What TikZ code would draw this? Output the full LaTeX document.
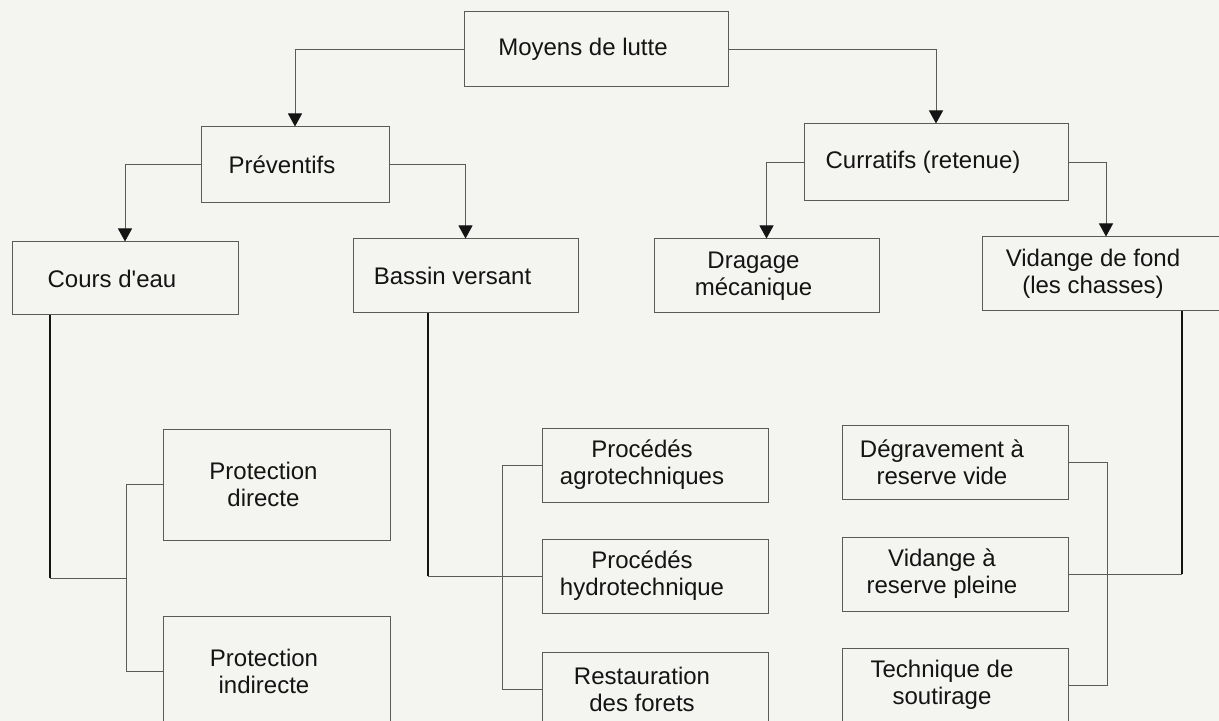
\documentclass[tikz,border=0pt]{standalone}
\usepackage{fontspec}
\setmainfont{Liberation Sans}
\usetikzlibrary{arrows.meta}
\definecolor{paper}{RGB}{244,244,241}
\definecolor{ink}{RGB}{20,20,20}
\definecolor{rule}{RGB}{90,90,90}
\newcommand{\tl}{\hspace*{13pt}}

\begin{document}
\begin{tikzpicture}[x=0.5pt,y=-0.5pt,
        box/.style={draw=rule,line width=0.5pt,fill=paper,align=center,inner sep=0pt,
          text=ink,font=\fontsize{12}{13.5}\selectfont},
        link/.style={draw=rule,line width=0.5pt,-{Triangle[length=6.5pt,width=7pt,fill=ink,color=ink]}},
        trunk/.style={draw=ink,line width=1pt},
        tie/.style={draw=rule,line width=0.5pt}]
        \clip (0,0) rectangle (1219,721);
        \fill [paper] (0,0) rectangle (1219,721);
        % top levels
        \node [box,minimum width=132pt,minimum height=37.5pt] (moyens) at (596,49.5) {Moyens de lutte\tl};
        \node [box,minimum width=94pt,minimum height=38pt] (prev) at (295,165) {Préventifs\tl};
        \node [box,minimum width=132pt,minimum height=38.5pt] (cur) at (936,162.5) {Curratifs (retenue)\tl};
        \node [box,minimum width=113pt,minimum height=36.5pt] (cours) at (125,278.5) {Cours d\textquotesingle eau\tl};
        \node [box,minimum width=112.5pt,minimum height=37pt] (bassin) at (465.5,276) {Bassin versant\tl};
        \node [box,minimum width=112.5pt,minimum height=37pt] (drag) at (766.5,276) {Dragage\tl\\mécanique\tl};
        \node [box,minimum width=124pt,minimum height=37pt] (vidf) at (1106,274) {Vidange de fond\tl\\(les chasses)\tl};
        % bottom levels
        \node [box,minimum width=113.5pt,minimum height=55.5pt] (pdir) at (276.5,484.5) {Protection\tl\\directe\tl};
        \node [box,minimum width=113.5pt,minimum height=55.5pt] (pind) at (277,671.5) {Protection\tl\\indirecte\tl};
        \node [box,minimum width=113pt,minimum height=37pt] (agro) at (655,465) {Procédés\tl\\agrotechniques\tl};
        \node [box,minimum width=113pt,minimum height=37pt] (hydro) at (655,576) {Procédés\tl\\hydrotechnique\tl};
        \node [box,minimum width=113pt,minimum height=37pt] (foret) at (655,689) {Restauration\tl\\des forets\tl};
        \node [box,minimum width=113pt,minimum height=37pt] (degr) at (955,462.5) {Dégravement à\tl\\reserve vide\tl};
        \node [box,minimum width=113pt,minimum height=37pt] (plein) at (955,574) {Vidange à\tl\\reserve pleine\tl};
        \node [box,minimum width=113pt,minimum height=37pt] (sout) at (955,685) {Technique de\tl\\soutirage\tl};
        % arrows
        \draw [link] (moyens.west) -| (prev.north);
        \draw [link] (moyens.east) -| (cur.north);
        \draw [link] (prev.west) -| (cours.north);
        \draw [link] (prev.east) -| (bassin.north);
        \draw [link] (cur.west) -| (drag.north);
        \draw [link] (cur.east) -| (vidf.north);
        % brackets
        \draw [tie] (pdir.west) -- ++(-36,0) |- (pind.west);
        \draw [tie] (agro.west) -- ++(-39,0) |- (foret.west);
        \draw [tie] (degr.east) -- ++(39,0) |- (sout.east);
        \coordinate (cjoin) at (127,578);
        \coordinate (cbend) at (50,578);
        \coordinate (bbend) at (427.5,576);
        \coordinate (vbend) at (1182,574);
        \draw [trunk] ([xshift=-37.5pt]cours.south) -- (cbend);
        \draw [tie] (cbend) -- (cjoin);
        \draw [trunk] ([xshift=-19pt]bassin.south) -- (bbend);
        \draw [tie] (bbend) -- (hydro.west);
        \draw [trunk] ([xshift=38pt]vidf.south) -- (vbend);
        \draw [tie] (vbend) -- (plein.east);
\end{tikzpicture}
\end{document}
